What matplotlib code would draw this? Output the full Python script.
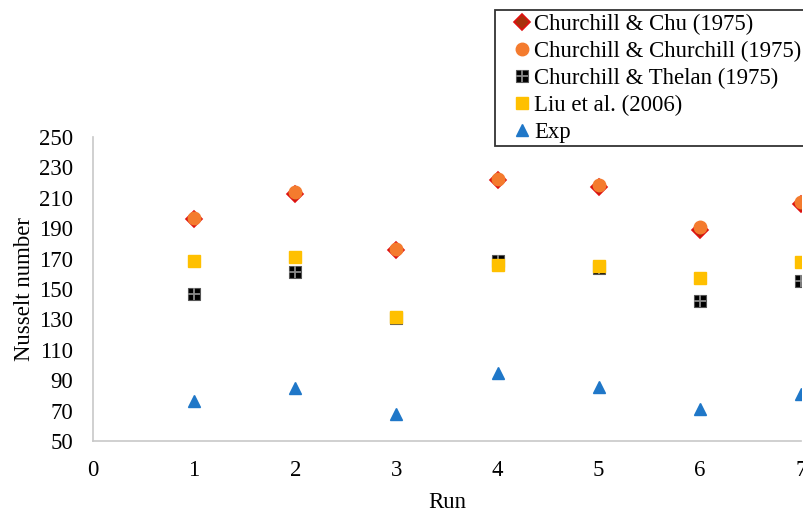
import matplotlib
matplotlib.use("Agg")
import matplotlib.pyplot as plt
from matplotlib.legend_handler import HandlerTuple

plt.rcParams['font.family'] = ['Liberation Serif', 'DejaVu Serif']

runs = [1, 2, 3, 4, 5, 6, 7]
chu = [196, 212.5, 175.5, 221.5, 217, 189, 206]
churchill = [196.5, 213.5, 176, 222.5, 218.5, 190.5, 207]
thelan = [147, 161, 131, 168.5, 164, 142, 155.5]
liu = [168.5, 171, 131.5, 166, 165, 157, 168]
exp = [76, 85, 68, 95, 85.5, 71, 81]

labels = ["Churchill & Chu (1975)", "Churchill & Churchill (1975)",
          "Churchill & Thelan (1975)", "Liu et al. (2006)", "Exp"]
yticks = list(range(50, 251, 20))
xticks = list(range(0, 8))

FS = 16.4

fig = plt.figure(figsize=(8.04, 5.13), dpi=100)
W, H = 804, 513
ax = fig.add_axes([93 / W, 1 - 441 / H, (801 - 93) / W, (441 - 137) / H])

h_chu, = ax.plot(runs, chu, linestyle='none', marker='D', markersize=7.8,
                 markerfacecolor='#A8300C', markeredgecolor='#E01010',
                 markeredgewidth=1.2, zorder=3)
h_cc, = ax.plot(runs, churchill, linestyle='none', marker='o', markersize=9,
                markerfacecolor='#F47B2E', markeredgecolor='#F47B2E', zorder=4)
h_th1, = ax.plot(runs, thelan, linestyle='none', marker='s', markersize=8.5,
                 markerfacecolor='black', markeredgecolor='#555555',
                 markeredgewidth=0.8, zorder=5)
h_th2, = ax.plot(runs, thelan, linestyle='none', marker='+', markersize=9,
                 markeredgecolor='#8A8A8A', markeredgewidth=1.3, zorder=5.1)
h_liu, = ax.plot(runs, liu, linestyle='none', marker='s', markersize=8.5,
                 markerfacecolor='#FFC000', markeredgecolor='#FFC000', zorder=6)
h_exp, = ax.plot(runs, exp, linestyle='none', marker='^', markersize=9,
                 markerfacecolor='#1F77C8', markeredgecolor='#1F77C8', zorder=7)

ax.set_xlim(0, 7)
ax.set_ylim(50, 250)
ax.set_xticks(xticks)
ax.set_yticks(yticks)
ax.tick_params(axis='x', length=0, labelsize=FS, colors='black', pad=13.5)
ax.tick_params(axis='y', length=0, labelsize=FS, colors='black', pad=14.5)
for s in ['top', 'right']:
    ax.spines[s].set_visible(False)
for s in ['left', 'bottom']:
    ax.spines[s].set_color('#C8C8C8')
    ax.spines[s].set_linewidth(1.2)

ax.set_xlabel("Run", fontsize=FS, labelpad=8)
ax.set_ylabel("Nusselt number", fontsize=FS, labelpad=3)

leg = fig.legend([h_chu, h_cc, (h_th1, h_th2), h_liu, h_exp], labels,
                 handler_map={tuple: HandlerTuple(ndivide=1)},
                 loc='upper left', bbox_to_anchor=(495 / W, 1 - 10 / H),
                 fontsize=FS, frameon=True, fancybox=False,
                 handlelength=2.1, handletextpad=-0.52, labelspacing=0.26,
                 borderpad=0.15, borderaxespad=0)
leg.get_frame().set_edgecolor('black')
leg.get_frame().set_linewidth(1.3)

fig.savefig("out.png", dpi=100)
